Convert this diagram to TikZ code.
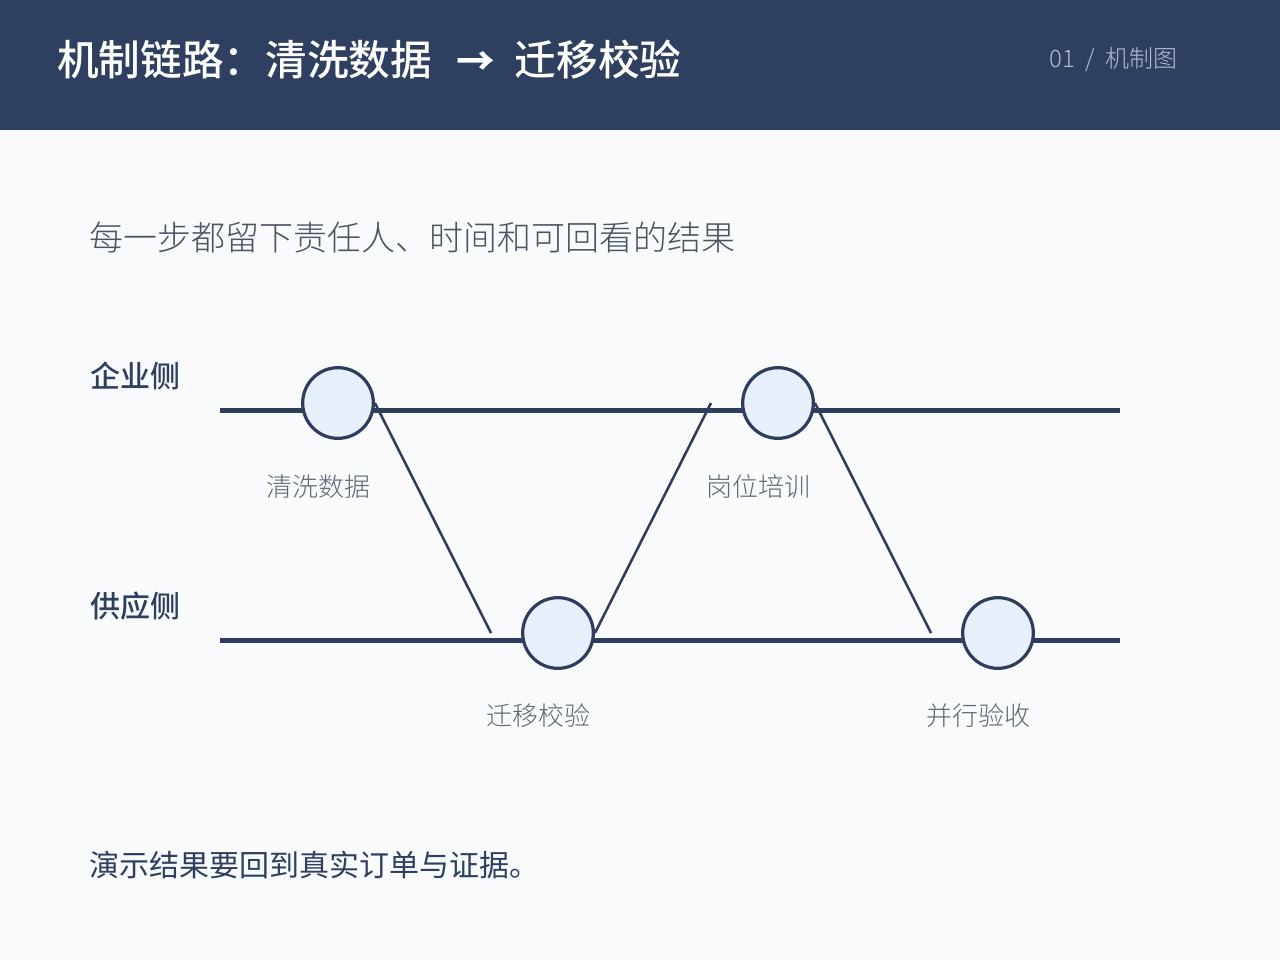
\documentclass[tikz,border=0pt]{standalone}
\usepackage{fontspec}
\setmainfont{Noto Sans CJK SC}
\newfontfamily\cjk{Noto Sans CJK SC}
\newfontfamily\cjklight{Noto Sans CJK SC}[UprightFont=* Light]
\newfontfamily\cjkmed{Noto Sans CJK SC}[UprightFont=* Medium]
\definecolor{bg}{HTML}{F8FAFC}
\definecolor{navy}{HTML}{2E3F5F}
\definecolor{lane}{HTML}{2E3D5C}
\definecolor{cfill}{HTML}{E6EFFA}
\definecolor{lbl}{HTML}{5E6878}
\definecolor{sub}{HTML}{4A5465}
\definecolor{hdr}{HTML}{B4BECD}
\tikzset{
  lanestyle/.style={draw=lane, line width=3.75pt},
  stepnode/.style={circle, draw=lane, fill=cfill, line width=2.4pt, minimum size=53pt, inner sep=0pt},
  linkstyle/.style={draw=lane, line width=1.9pt},
  steplabel/.style={font=\cjklight\fontsize{19.5}{22}\selectfont, text=lbl, inner sep=0pt},
  sidelabel/.style={font=\cjkmed\fontsize{22.5}{26}\selectfont, text=navy, anchor=west, inner sep=0pt}
}
\begin{document}
\begin{tikzpicture}[x=0.75pt,y=-0.75pt]
\path[fill=bg] (0,0) rectangle (1280,960);
\useasboundingbox (0,0) rectangle (1280,960);
\path[fill=navy] (0,0) rectangle (1280,130);
\node[anchor=west, inner sep=0pt, text=white, font=\cjkmed\fontsize{31.25}{34}\selectfont] (title) at (57,60) {机制链路：清洗数据\hspace{18pt}{\cjk\bfseries\fontsize{29}{34}\selectfont →}\hspace{15pt}迁移校验};
\node[anchor=east, inner sep=0pt, text=hdr, font=\cjklight\fontsize{18}{20}\selectfont] (pg) at (1178,60) {01\hspace{8pt}/\hspace{8pt}机制图};
\node[anchor=west, inner sep=0pt, text=sub, font=\cjklight\fontsize{25.5}{28}\selectfont] (subt) at (89,237) {每一步都留下责任人、时间和可回看的结果};
\node[sidelabel] (ent) at (90,376) {企业侧};
\node[sidelabel] (sup) at (90,606) {供应侧};
\coordinate (t0) at (220,410);
\coordinate (t1) at (1120,410);
\coordinate (b0) at (220,640);
\coordinate (b1) at (1120,640);
\draw[lanestyle] (t0) -- (t1);
\draw[lanestyle] (b0) -- (b1);
\node[stepnode] (c1) at (338,403) {};
\node[stepnode] (c2) at (558,633) {};
\node[stepnode] (c3) at (778,403) {};
\node[stepnode] (c4) at (998,633) {};
\coordinate (e1) at (491,633);
\coordinate (e2) at (711,403);
\coordinate (e3) at (931,633);
\draw[linkstyle] (c1.east) -- (e1);
\draw[linkstyle] (c2.east) -- (e2);
\draw[linkstyle] (c3.east) -- (e3);
\node[steplabel] (l1) at (318,487) {清洗数据};
\node[steplabel] (l2) at (538,716) {迁移校验};
\node[steplabel] (l3) at (758,487) {岗位培训};
\node[steplabel] (l4) at (978,716) {并行验收};
\node[anchor=west, inner sep=0pt, text=navy, font=\cjk\fontsize{22.5}{26}\selectfont] (foot) at (89,865) {演示结果要回到真实订单与证据。};
\end{tikzpicture}
\end{document}
